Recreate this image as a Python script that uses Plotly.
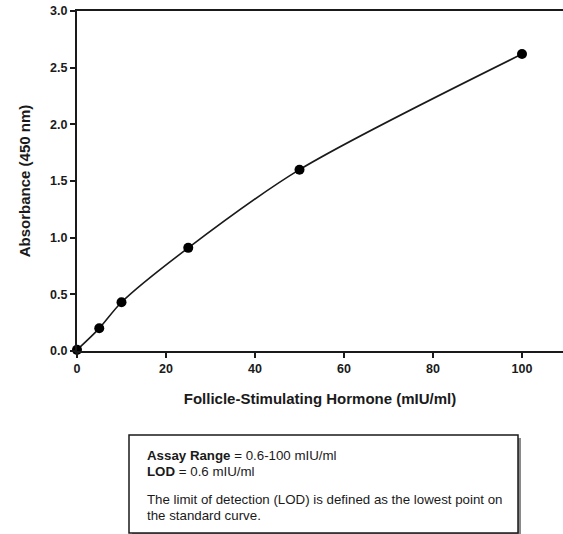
import plotly.graph_objects as go

# Data
concentration = [0, 5, 10, 25, 50, 100]
absorbance = [0.01, 0.20, 0.43, 0.91, 1.60, 2.62]
x_ticks = [0, 20, 40, 60, 80, 100]
y_ticks = [0.0, 0.5, 1.0, 1.5, 2.0, 2.5, 3.0]

W, H = 563, 534
L, T, B, R = 77, 11, 183, 0
pw, ph = W - L - R, H - T - B

def px(x):
    return (x - L) / pw

def py(y):
    return (H - B - y) / ph

FONT = "Liberation Sans, Arial, sans-serif"
INK = "#1a1a1a"

fig = go.Figure()
fig.add_trace(go.Scatter(
    x=concentration, y=absorbance, mode="lines",
    line=dict(color=INK, width=1.6, shape="spline", smoothing=0.8),
    hoverinfo="skip", cliponaxis=False))
fig.add_trace(go.Scatter(
    x=concentration, y=absorbance, mode="markers",
    marker=dict(color="black", size=10), cliponaxis=False))

fig.update_layout(
    width=W, height=H, showlegend=False,
    margin=dict(l=L, r=R, t=T, b=B, pad=0),
    plot_bgcolor="white", paper_bgcolor="white",
    font=dict(family=FONT, color=INK),
    xaxis=dict(range=[0, pw / 4.45], tickvals=x_ticks, showgrid=False, zeroline=False,
               showline=True, linecolor=INK, linewidth=2, mirror=True,
               ticks="outside", ticklen=5, tickwidth=2, tickcolor=INK,
               tickfont=dict(size=12.5, weight="bold", family=FONT, color=INK),
               title=dict(text="Follicle-Stimulating Hormone (mIU/ml)", standoff=18,
                          font=dict(size=15, weight="bold", family=FONT, color=INK))),
    yaxis=dict(range=[0, 3.0], tickvals=y_ticks, tickformat=".1f", showgrid=False, zeroline=False,
               showline=True, linecolor=INK, linewidth=2,
               ticks="outside", ticklen=5, tickwidth=2, tickcolor=INK,
               tickfont=dict(size=12.5, weight="bold", family=FONT, color=INK),
               title=dict(text="Absorbance (450 nm)", standoff=16,
                          font=dict(size=15, weight="bold", family=FONT, color=INK))),
)

# Info box with shadow
bx0, bx1, by0, by1 = 129, 518, 435, 533
fig.add_shape(type="rect", xref="paper", yref="paper",
              x0=px(bx0 + 3), x1=px(bx1 + 3), y0=py(by0 + 3), y1=py(by1 + 3),
              fillcolor="#8a8a8a", line=dict(width=0), layer="above")
fig.add_shape(type="rect", xref="paper", yref="paper",
              x0=px(bx0), x1=px(bx1), y0=py(by0), y1=py(by1),
              fillcolor="white", line=dict(color=INK, width=1.5), layer="above")

lines = [
    (455, "<b>Assay Range</b> = 0.6-100 mIU/ml"),
    (471, "<b>LOD</b> = 0.6 mIU/ml"),
    (499, "The limit of detection (LOD) is defined as the lowest point on"),
    (515, "the standard curve."),
]
for yy, txt in lines:
    fig.add_annotation(xref="paper", yref="paper", x=px(145), y=py(yy),
                       xanchor="left", yanchor="middle", showarrow=False,
                       text=txt, font=dict(size=13.3, family=FONT, color=INK))

fig.write_html("out.html", config={"displayModeBar": False},
               post_script="document.body.style.margin='0';document.body.style.overflow='hidden';")
